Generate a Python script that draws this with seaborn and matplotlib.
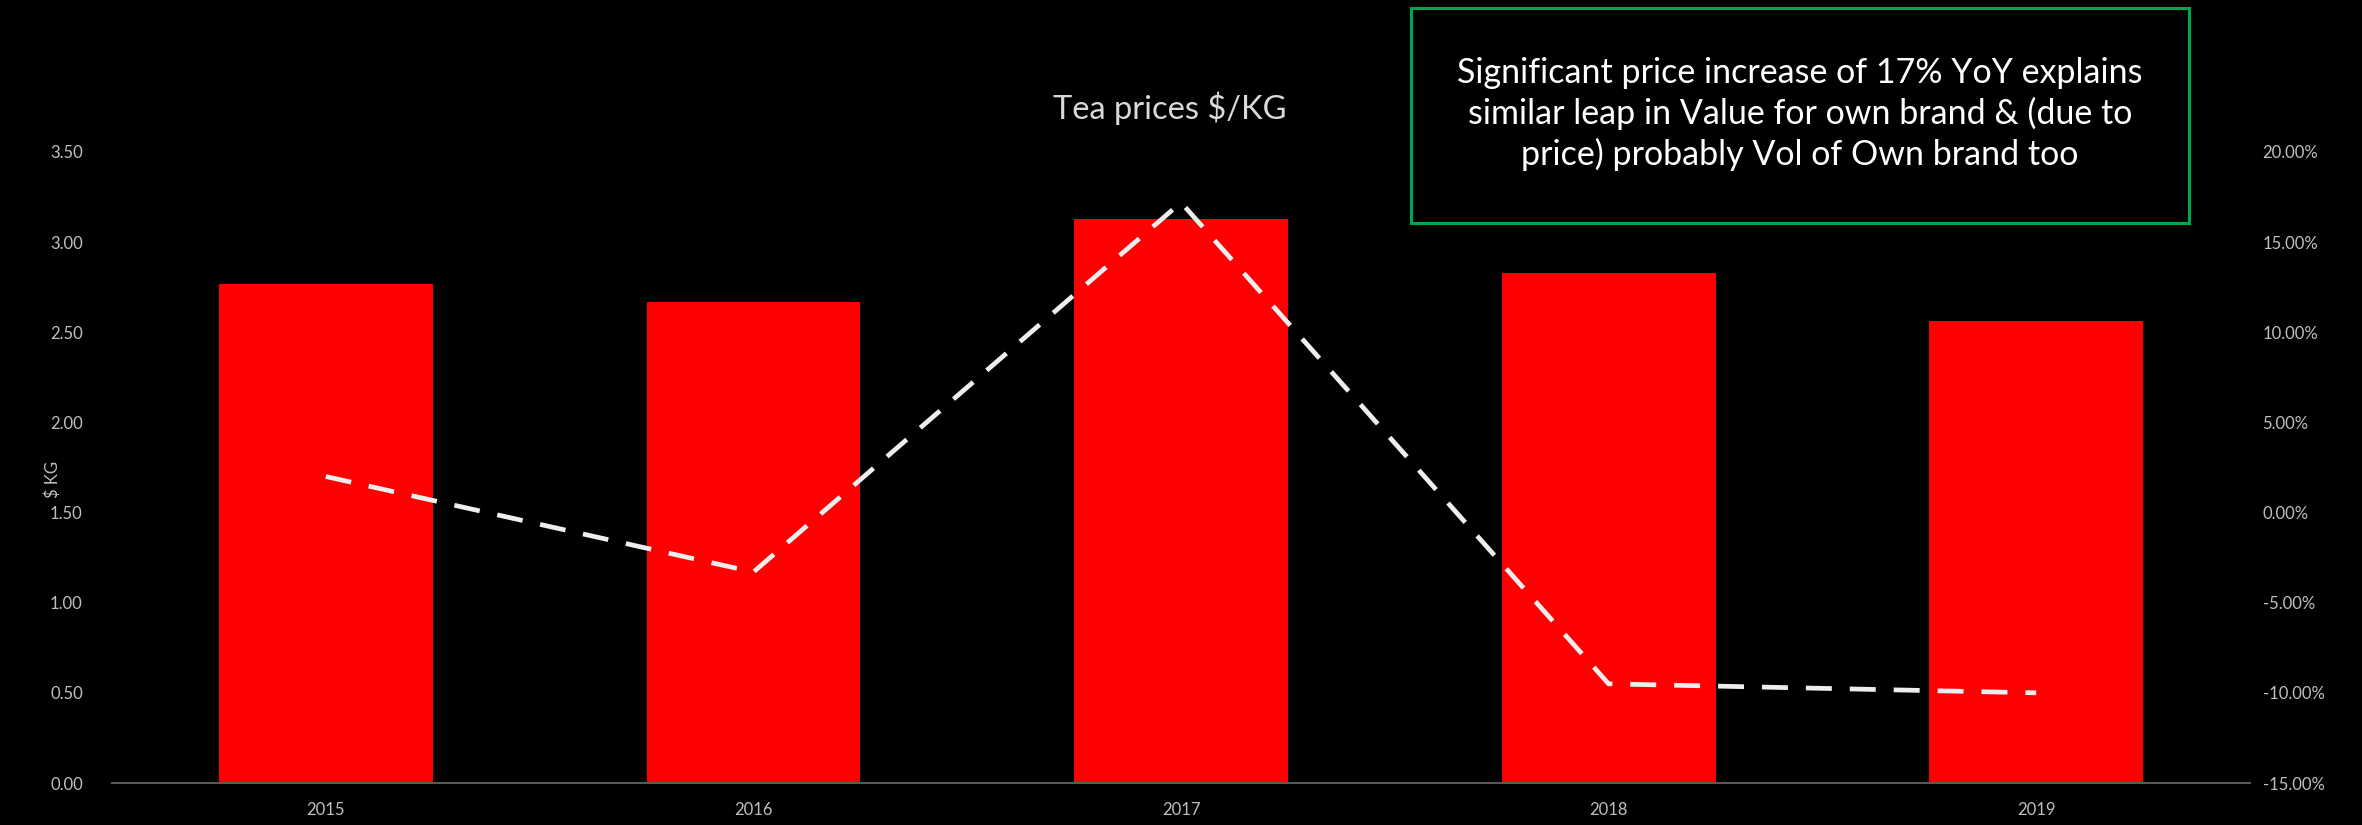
import numpy as np
import pandas as pd
import matplotlib
matplotlib.use("Agg")
import matplotlib.pyplot as plt
from matplotlib.patches import Rectangle
from matplotlib.ticker import FuncFormatter
import seaborn as sns

# Tea price data
years = ["2015", "2016", "2017", "2018", "2019"]
price_per_kg = [2.77, 2.67, 3.13, 2.83, 2.56]
yoy_change = [0.020, -0.033, 0.172, -0.095, -0.100]

title_text = "Tea prices $/KG"
y_label = "$ KG"
note_lines = [
    "Significant price increase of 17% YoY explains",
    "similar leap in Value for own brand & (due to",
    "price) probably Vol of Own brand too",
]

sns.set_theme(style="white")
plt.rcParams["font.family"] = ["Lato", "DejaVu Sans"]

tick_color = "#bfbfbf"
W, H = 2362, 825
fig = plt.figure(figsize=(W / 100, H / 100), dpi=100, facecolor="black")
ax = fig.add_axes([112 / W, 1 - 783 / H, (2250 - 112) / W, (783 - 152) / H])
ax.set_facecolor("black")

df = pd.DataFrame({"year": years, "price": price_per_kg})
sns.barplot(data=df, x="year", y="price", color="#ff0000", width=0.5,
            saturation=1, ax=ax, linewidth=0)

ax.set_ylim(0, 3.5)
ax.set_yticks(np.arange(0, 3.51, 0.5))
ax.yaxis.set_major_formatter(FuncFormatter(lambda v, p: f"{v:.2f}"))
ax.set_xlabel("")
ax.set_ylabel("")
for s in ["top", "right", "left"]:
    ax.spines[s].set_visible(False)
ax.spines["bottom"].set_color("#595959")
ax.spines["bottom"].set_linewidth(1.5)
ax.tick_params(axis="y", length=0, pad=21, labelsize=12, labelcolor=tick_color)
ax.tick_params(axis="x", length=0, pad=14, labelsize=12, labelcolor=tick_color)

# Year-on-year change on the secondary axis
ax2 = ax.twinx()
sns.lineplot(x=np.arange(len(years)), y=yoy_change, ax=ax2, color="#eeeeee",
             linewidth=3.4, linestyle=(0, (5.5, 3.8)), dash_capstyle="butt")
ax2.set_ylim(-0.15, 0.20)
ax2.set_yticks(np.arange(-0.15, 0.2001, 0.05))
ax2.yaxis.set_major_formatter(FuncFormatter(lambda v, p: f"{v * 100:.2f}%"))
ax2.tick_params(axis="y", length=0, pad=9, labelsize=12, labelcolor=tick_color)
for s in ["top", "right", "left", "bottom"]:
    ax2.spines[s].set_visible(False)
ax2.set_ylabel("")
ax.set_xlim(-0.5, len(years) - 0.5)
ax2.set_xlim(-0.5, len(years) - 0.5)

fig.text(1170 / W, 1 - 108 / H, title_text, ha="center", va="center",
         color="#d9d9d9", fontsize=23.5)
fig.text(53 / W, 1 - 479 / H, y_label, ha="center", va="center",
         rotation=90, color=tick_color, fontsize=12)

# Commentary box
box = Rectangle((1411 / W, 1 - 223 / H), (2189 - 1411) / W, (223 - 8) / H,
                transform=fig.transFigure, facecolor="black",
                edgecolor="#00a550", linewidth=2.2, zorder=5)
fig.patches.append(box)
fig.text(1800 / W, 1 - 114 / H, "\n".join(note_lines), ha="center",
         va="center", color="white", fontsize=24.5, linespacing=1.28, zorder=6)

fig.savefig("out.png", dpi=100, facecolor="black")
